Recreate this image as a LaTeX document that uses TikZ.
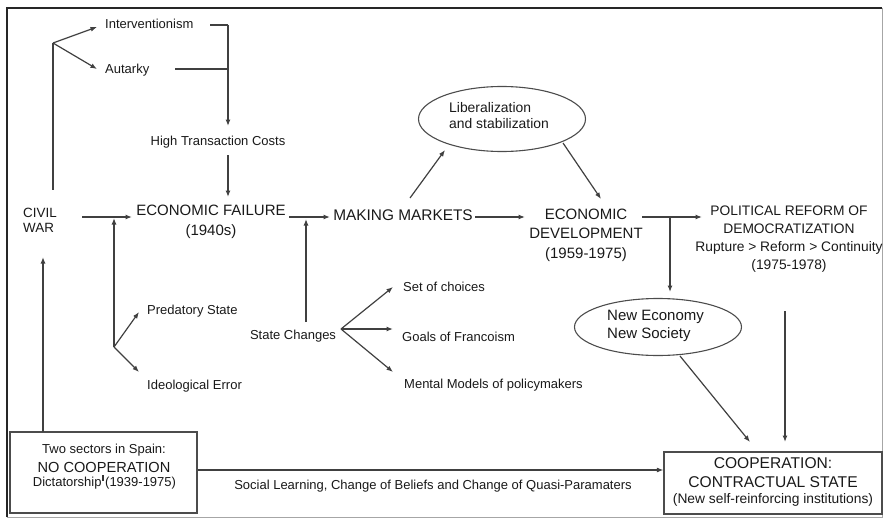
\documentclass[tikz,border=0pt]{standalone}
\usepackage{fontspec}
\setmainfont{Liberation Sans}
\usetikzlibrary{arrows.meta,shapes.geometric}
\begin{document}
\begin{tikzpicture}[x=1pt,y=-1pt,
  line/.style={draw=black!75, line width=1.2pt},
  arr/.style={line, -{Latex[length=6.5pt,width=5pt]}},
  sm/.style={font=\fontsize{13}{16}\selectfont, inner sep=0pt, text=black!90},
  md/.style={font=\fontsize{13.8}{18}\selectfont, inner sep=0pt, text=black!90},
  bg/.style={font=\fontsize{15}{19.5}\selectfont, inner sep=0pt, text=black!90},
  boxed/.style={draw=black!70, line width=1.2pt, inner sep=0pt},
  oval/.style={ellipse, draw=black!70, line width=1.1pt, inner sep=0pt}
]
\useasboundingbox (0,0) rectangle (883,519);
% frame
\draw[black!85, line width=1.3pt] (7,517) -- (7,8) -- (882,8);
\draw[black!35, line width=0.8pt] (882,8) -- (882,517) -- (7,517);

% text nodes
\node[sm, anchor=west] (interv) at (105,24) {Interventionism};
\node[sm, anchor=west] (autarky) at (105,70) {Autarky};
\node[sm] (htc) at (218,142) {High Transaction Costs};
\node[font=\fontsize{13.4}{15.5}\selectfont, inner sep=0pt, align=left, anchor=west, text=black!90] (civil) at (23,220.5) {CIVIL\\WAR};
\node[bg, align=center] (ef) at (211,222) {ECONOMIC FAILURE\\(1940s)};
\node[font=\fontsize{15.4}{19}\selectfont, inner sep=0pt, text=black!90] (mm) at (403,215) {MAKING MARKETS};
\node[bg, align=center] (ed) at (586,235) {ECONOMIC\\DEVELOPMENT\\(1959-1975)};
\node[md, align=center] (pol) at (789,239.5) {POLITICAL REFORM OF\\DEMOCRATIZATION\\Rupture > Reform > Continuity\\(1975-1978)};

% ellipses
\node[oval, minimum width=167pt, minimum height=65pt] (lib) at (502,119) {};
\node[font=\fontsize{13.9}{16}\selectfont, inner sep=0pt, align=left, anchor=west, text=black!90] (libt) at (449,115.5) {Liberalization\\and stabilization};
\node[oval, minimum width=167pt, minimum height=57pt] (nes) at (658,327) {};
\node[font=\fontsize{15}{18}\selectfont, inner sep=0pt, align=left, anchor=west, text=black!90] (nest) at (607,325.5) {New Economy\\New Society};

% lower left
\node[sm, anchor=west] (pred) at (147,311) {Predatory State};
\node[sm, anchor=west] (ideo) at (147,386) {Ideological Error};
\node[sm] (sc) at (293,336) {State Changes};
\node[sm, anchor=west] (soc) at (403,287) {Set of choices};
\node[sm, anchor=west] (goals) at (402,337) {Goals of Francoism};
\node[sm, anchor=west] (mental) at (404,385) {Mental Models of policymakers};

% boxes
\node[boxed, minimum width=187pt, minimum height=81pt] (two) at (103.5,472.5) {};
\node[sm] (twot1) at (104,450) {Two sectors in Spain:};
\node[font=\fontsize{14.6}{18}\selectfont, inner sep=0pt, text=black!90] (twot2) at (104,467) {NO COOPERATION};
\node[sm] (twot3) at (104.5,483.5) {Dictatorship (1939-1975)};
\node[boxed, minimum width=218pt, minimum height=62pt] (coop) at (773,483) {};
\node[font=\fontsize{15.6}{19}\selectfont, inner sep=0pt, text=black!90] (coopt1) at (773,463) {COOPERATION:};
\node[font=\fontsize{15.6}{19}\selectfont, inner sep=0pt, text=black!90] (coopt2) at (773,482) {CONTRACTUAL STATE};
\node[md] (coopt3) at (773,500) {(New self-reinforcing institutions)};
\node[sm] (social) at (433,486) {Social Learning, Change of Beliefs and Change of Quasi-Paramaters};

% coordinates
\coordinate (b1) at (53,43);
\coordinate (b1end) at (53,190);
\coordinate (ivE) at (210,25);
\coordinate (auE) at (175,69);
\coordinate (j1) at (228,25);
\coordinate (j2) at (228,69);
\coordinate (htcIn) at (228,126);
\coordinate (htcOut) at (228,155);
\coordinate (efIn) at (228,197);
\coordinate (cwOut) at (82,217);
\coordinate (efL) at (132,217);
\coordinate (b2) at (114,347);
\coordinate (b2top) at (114,218);
\coordinate (efOut) at (289,217);
\coordinate (mmIn) at (330,217);
\coordinate (scOut) at (306,322);
\coordinate (scTop) at (306,219);
\coordinate (b3) at (341,329);
\coordinate (mmOut) at (475,217);
\coordinate (edIn) at (525,217);
\coordinate (mmUp) at (410,198);
\coordinate (libIn) at (445,150);
\coordinate (libOut) at (563,143);
\coordinate (edTop) at (601,199);
\coordinate (edOut) at (642,217);
\coordinate (polIn) at (702,217);
\coordinate (j3) at (670,217);
\coordinate (nesIn) at (670,292);
\coordinate (nesOut) at (680,356);
\coordinate (coopA) at (750,442);
\coordinate (polOut) at (785,311);
\coordinate (coopB) at (785,442);
\coordinate (twoUp) at (43,432);
\coordinate (cwIn) at (43,257);
\coordinate (cline) at (0,470);

% connectors
\draw[arr] (b1) -- (97,27);
\draw[arr] (b1) -- (97,69);
\draw[line] (b1) -- (b1end);
\draw[line] (ivE) -- (j1);
\draw[line] (auE) -- (j2);
\draw[arr] (j1) -- (htcIn);
\draw[arr] (htcOut) -- (efIn);
\draw[arr] (cwOut) -- (efL);
\draw[arr] (b2) -- (b2top);
\draw[arr] (b2) -- (139,312);
\draw[arr] (b2) -- (139,372);
\draw[arr] (efOut) -- (mmIn);
\draw[arr] (scOut) -- (scTop);
\draw[arr] (b3) -- (393,287);
\draw[arr] (b3) -- (393,329);
\draw[arr] (b3) -- (393,372);
\draw[arr] (mmOut) -- (edIn);
\draw[arr] (mmUp) -- (libIn);
\draw[arr] (libOut) -- (edTop);
\draw[arr] (edOut) -- (polIn);
\draw[arr] (j3) -- (nesIn);
\draw[arr] (nesOut) -- (coopA);
\draw[arr] (polOut) -- (coopB);
\draw[arr] (twoUp) -- (cwIn);
\draw[arr] (two.east |- cline) -- (coop.west |- cline);
\draw[black!80, line width=1.6pt] (103,475) -- (103,481);
\end{tikzpicture}
\end{document}
